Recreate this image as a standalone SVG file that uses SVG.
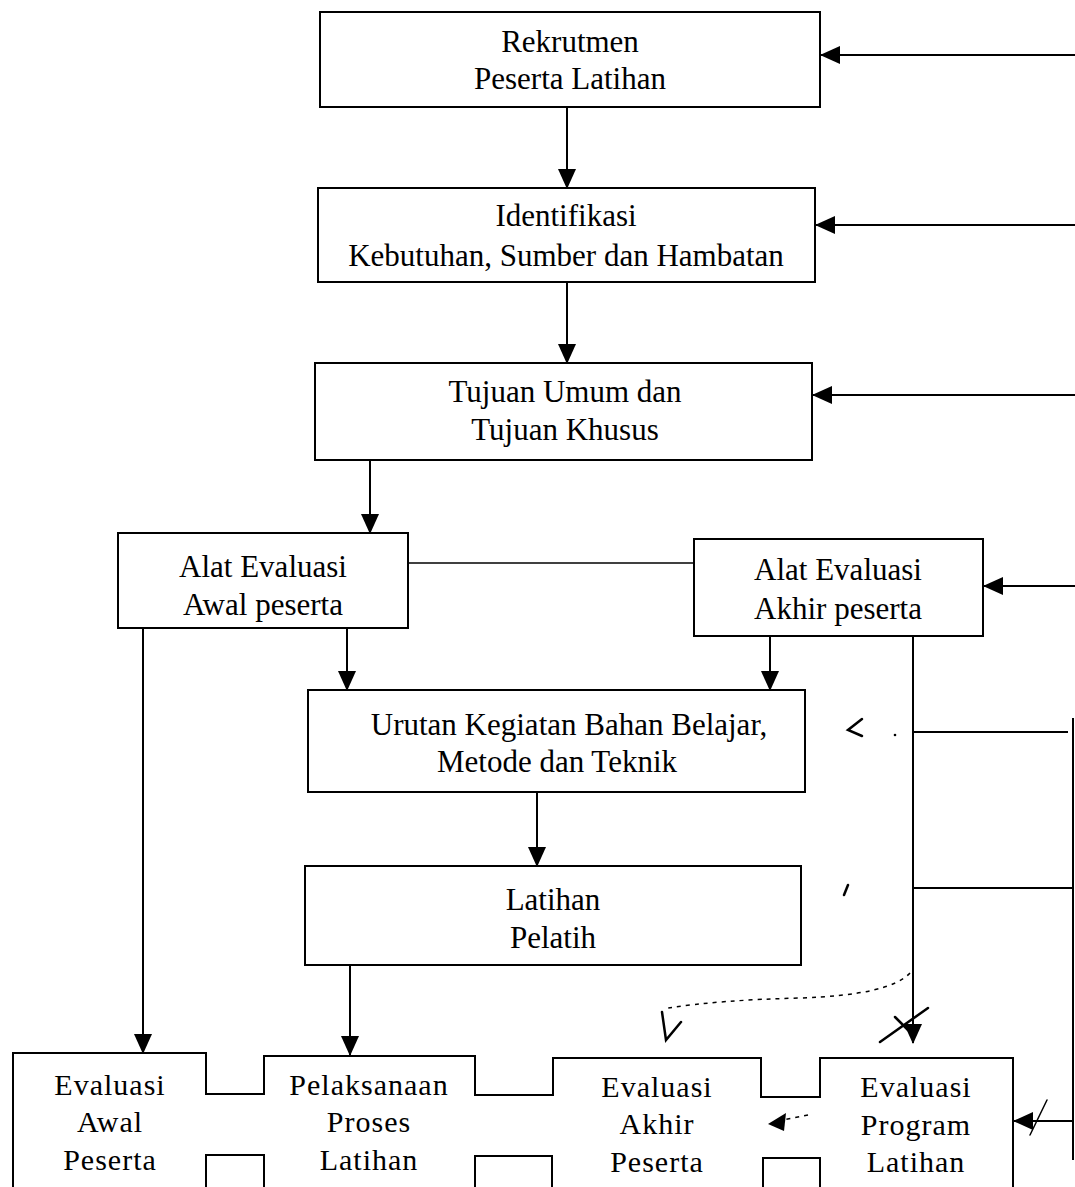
<svg xmlns="http://www.w3.org/2000/svg" width="1075" height="1187" viewBox="0 0 1075 1187">
<defs>
<marker id="ah" markerUnits="userSpaceOnUse" markerWidth="20" markerHeight="18" refX="19" refY="9" orient="auto">
<path d="M0,0 L20,9 L0,18 Z" fill="#000"/>
</marker>
<style>
.box{fill:#fff;stroke:#000;stroke-width:2}
.ln{fill:none;stroke:#000;stroke-width:2}
.thin{fill:none;stroke:#000;stroke-width:1.3}
.hand{fill:none;stroke:#000;stroke-width:2.5;stroke-linecap:round}
.dash{fill:none;stroke:#000;stroke-width:1.5;stroke-dasharray:4 5}
text{font-family:"Liberation Serif","Times New Roman",serif;font-size:31px;fill:#000;text-anchor:middle}
.b{font-size:30px;letter-spacing:1px}
</style>
</defs>
<rect width="1075" height="1187" fill="#fff"/>

<g id="connectors">
<line class="ln" x1="567" y1="107" x2="567" y2="188" marker-end="url(#ah)"/>
<line class="ln" x1="567" y1="282" x2="567" y2="363" marker-end="url(#ah)"/>
<line class="ln" x1="370" y1="460" x2="370" y2="533" marker-end="url(#ah)"/>
<line class="ln" x1="1075" y1="55" x2="821" y2="55" marker-end="url(#ah)"/>
<line class="ln" x1="1075" y1="225" x2="816" y2="225" marker-end="url(#ah)"/>
<line class="ln" x1="1075" y1="395" x2="813" y2="395" marker-end="url(#ah)"/>
<line class="ln" x1="1075" y1="586" x2="984" y2="586" marker-end="url(#ah)"/>
<line class="thin" x1="408" y1="563" x2="694" y2="563"/>
<line class="ln" x1="347" y1="628" x2="347" y2="690" marker-end="url(#ah)"/>
<line class="ln" x1="770" y1="636" x2="770" y2="690" marker-end="url(#ah)"/>
<line class="ln" x1="537" y1="792" x2="537" y2="866" marker-end="url(#ah)"/>
<line class="ln" x1="350" y1="965" x2="350" y2="1055" marker-end="url(#ah)"/>
<line class="ln" x1="143" y1="628" x2="143" y2="1053" marker-end="url(#ah)"/>
<line class="ln" x1="913" y1="636" x2="913" y2="1043" marker-end="url(#ah)"/>
<line class="ln" x1="913" y1="732" x2="1068" y2="732"/>
<line class="ln" x1="913" y1="888" x2="1073" y2="888"/>
<line class="ln" x1="1073" y1="718" x2="1073" y2="1160"/>
<line class="ln" x1="1073" y1="1121" x2="1014" y2="1121" marker-end="url(#ah)"/>
<path class="dash" d="M910,973 Q890,995 800,998 Q720,1000 668,1008"/>
<path class="hand" d="M662,1012 L666,1040 L681,1022"/>
<path class="hand" d="M880,1042 L928,1008"/>
<path class="hand" d="M895,1017 L908,1030"/>
<path class="hand" d="M862,719 L848,730 L862,736"/>
<path class="hand" d="M848,885 L844,895"/>
<circle cx="895" cy="735" r="1.3" fill="#000"/>
<path class="dash" d="M808,1115 L782,1120"/>
<path d="M768,1124 L786,1113 L784,1131 Z" fill="#000"/>
<path class="hand" d="M1030,1135 L1047,1100" style="stroke-width:1.5"/>
</g>

<g id="rekrutmen">
<rect class="box" x="320" y="12" width="500" height="95"/>
<text x="570" y="52">Rekrutmen</text>
<text x="570" y="89">Peserta Latihan</text>
</g>
<g id="identifikasi">
<rect class="box" x="318" y="188" width="497" height="94"/>
<text x="566" y="226">Identifikasi</text>
<text x="566" y="266">Kebutuhan, Sumber dan Hambatan</text>
</g>
<g id="tujuan">
<rect class="box" x="315" y="363" width="497" height="97"/>
<text x="565" y="402">Tujuan Umum dan</text>
<text x="565" y="440">Tujuan Khusus</text>
</g>
<g id="alat-awal">
<rect class="box" x="118" y="533" width="290" height="95"/>
<text x="263" y="577">Alat Evaluasi</text>
<text x="263" y="615">Awal peserta</text>
</g>
<g id="alat-akhir">
<rect class="box" x="694" y="539" width="289" height="97"/>
<text x="838" y="580">Alat Evaluasi</text>
<text x="838" y="619">Akhir peserta</text>
</g>
<g id="urutan">
<rect class="box" x="308" y="690" width="497" height="102"/>
<text x="569" y="735">Urutan Kegiatan Bahan Belajar,</text>
<text x="557" y="772">Metode dan Teknik</text>
</g>
<g id="latihan">
<rect class="box" x="305" y="866" width="496" height="99"/>
<text x="553" y="910">Latihan</text>
<text x="553" y="948">Pelatih</text>
</g>

<g id="bottom-row">
<path class="ln" d="M13,1187 L13,1053 L206,1053 L206,1094 L264,1094 L264,1056 L475,1056 L475,1095 L553,1095 L553,1058 L761,1058 L761,1097 L820,1097 L820,1058 L1013,1058 L1013,1187"/>
<path class="ln" d="M206,1187 L206,1155 L264,1155 L264,1187"/>
<path class="ln" d="M475,1187 L475,1156 L552,1156 L552,1187"/>
<path class="ln" d="M763,1187 L763,1158 L820,1158 L820,1187"/>
</g>
<g id="evaluasi-awal">
<text class="b" x="110" y="1095">Evaluasi</text>
<text class="b" x="110" y="1132">Awal</text>
<text class="b" x="110" y="1170">Peserta</text>
</g>
<g id="pelaksanaan">
<text class="b" x="369" y="1095">Pelaksanaan</text>
<text class="b" x="369" y="1132">Proses</text>
<text class="b" x="369" y="1170">Latihan</text>
</g>
<g id="evaluasi-akhir">
<text class="b" x="657" y="1097">Evaluasi</text>
<text class="b" x="657" y="1134">Akhir</text>
<text class="b" x="657" y="1172">Peserta</text>
</g>
<g id="evaluasi-program">
<text class="b" x="916" y="1097">Evaluasi</text>
<text class="b" x="916" y="1135">Program</text>
<text class="b" x="916" y="1172">Latihan</text>
</g>
</svg>
